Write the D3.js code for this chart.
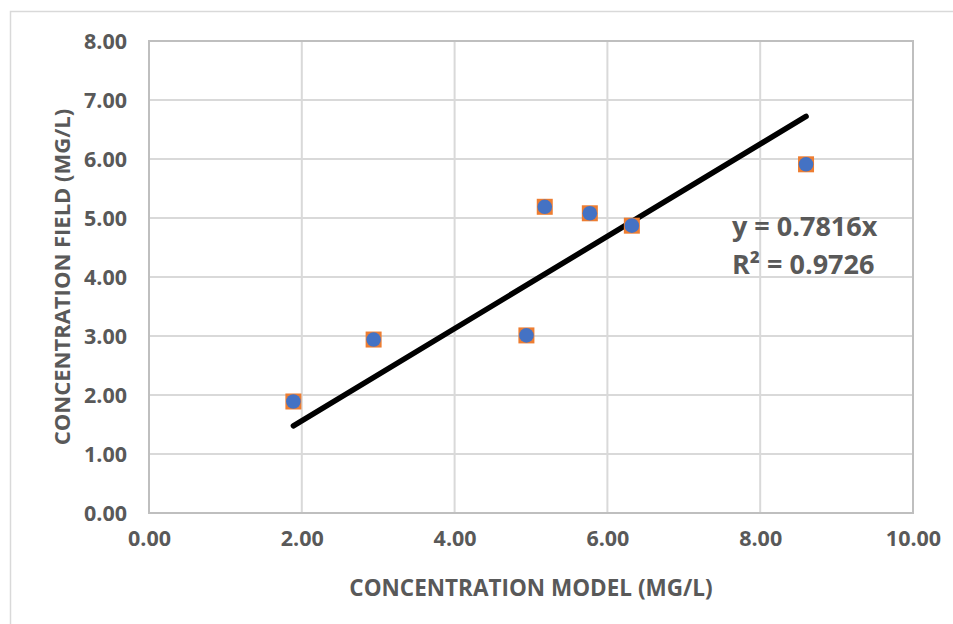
<!DOCTYPE html>
<html>
<head>
<meta charset="utf-8">
<script src="https://cdn.jsdelivr.net/npm/d3@7"></script>
<style>
    body { margin: 0; background: #fff; }
    text { font-family: "Open Sans", sans-serif; font-weight: bold; fill: #595959; }
</style>
</head>
<body>
<div id="chart"></div>
<script>
// values
var modelConc = [1.89, 2.94, 4.94, 5.18, 5.77, 6.32, 8.60];
var fieldConc = [1.89, 2.94, 3.01, 5.19, 5.08, 4.87, 5.91];
var xTicks = [0, 2, 4, 6, 8, 10];
var yTicks = [0, 1, 2, 3, 4, 5, 6, 7, 8];
var slope = 0.7816;
var rSquared = 0.9726;

var margin = {
        top: 41,
        right: 40,
        bottom: 111,
        left: 149
    },
    width = 953 - margin.left - margin.right,
    height = 624 - margin.top - margin.bottom;

var svg = d3.select('#chart')
    .append('svg')
    .attr('width', 953)
    .attr('height', 624);

// outer chart border (runs off the right and bottom edges)
svg.append('rect')
    .attr('x', 10.5)
    .attr('y', 11.5)
    .attr('width', 960)
    .attr('height', 640)
    .attr('fill', 'none')
    .attr('stroke', '#d9d9d9')
    .attr('stroke-width', 1.5);

var g = svg.append('g')
    .attr('transform', 'translate(' + margin.left + ',' + margin.top + ')');

var x = d3.scaleLinear().domain([0, 10]).range([0, width]);
var y = d3.scaleLinear().domain([0, 8]).range([height, 0]);

// grid
g.append('g')
    .selectAll('line')
    .data(xTicks)
    .enter()
    .append('line')
    .attr('x1', function(d) { return x(d); })
    .attr('x2', function(d) { return x(d); })
    .attr('y1', 0)
    .attr('y2', height)
    .attr('stroke', '#d9d9d9')
    .attr('stroke-width', 2);

g.append('g')
    .selectAll('line')
    .data(yTicks)
    .enter()
    .append('line')
    .attr('x1', 0)
    .attr('x2', width)
    .attr('y1', function(d) { return y(d); })
    .attr('y2', function(d) { return y(d); })
    .attr('stroke', '#d9d9d9')
    .attr('stroke-width', 2);

// plot area border
g.append('rect')
    .attr('width', width)
    .attr('height', height)
    .attr('fill', 'none')
    .attr('stroke', '#bfbfbf')
    .attr('stroke-width', 2);

// axes (labels only)
var xAxis = g.append('g')
    .attr('transform', 'translate(0,' + height + ')')
    .call(d3.axisBottom(x).tickValues(xTicks).tickFormat(d3.format('.2f')).tickSize(0).tickPadding(25));

var yAxis = g.append('g')
    .call(d3.axisLeft(y).tickValues(yTicks).tickFormat(d3.format('.2f')).tickSize(0).tickPadding(22));

[xAxis, yAxis].forEach(function(a) {
    a.select('.domain').remove();
    a.selectAll('text')
        .attr('font-family', null)
        .style('font-size', '21.5px')
        .attr('fill', '#595959')
        .attr('dy', '0.35em');
});

// axis titles
svg.append('text')
    .attr('x', margin.left + width / 2)
    .attr('y', 596)
    .attr('text-anchor', 'middle')
    .style('font-size', '22.5px')
    .text('CONCENTRATION MODEL (MG/L)');

svg.append('text')
    .attr('transform', 'translate(70,' + (margin.top + height / 2) + ') rotate(-90)')
    .attr('text-anchor', 'middle')
    .style('font-size', '22px')
    .text('CONCENTRATION FIELD (MG/L)');

var points = modelConc.map(function(d, i) {
    return { x: d, y: fieldConc[i] };
});

// trendline through origin, drawn over the data range
var xMin = d3.min(modelConc), xMax = d3.max(modelConc);
g.append('line')
    .attr('x1', x(xMin))
    .attr('y1', y(slope * xMin))
    .attr('x2', x(xMax))
    .attr('y2', y(slope * xMax))
    .attr('stroke', '#000')
    .attr('stroke-width', 5.5)
    .attr('stroke-linecap', 'round');

// markers: orange squares under blue circles
g.selectAll('rect.sq')
    .data(points)
    .enter()
    .append('rect')
    .attr('class', 'sq')
    .attr('x', function(d) { return x(d.x) - 8; })
    .attr('y', function(d) { return y(d.y) - 8; })
    .attr('width', 16)
    .attr('height', 16)
    .attr('fill', '#ed7d31');

g.selectAll('circle')
    .data(points)
    .enter()
    .append('circle')
    .attr('cx', function(d) { return x(d.x); })
    .attr('cy', function(d) { return y(d.y); })
    .attr('r', 7.3)
    .attr('fill', '#4472c4');

// regression label
var eq = svg.append('text')
    .style('font-size', '27px');
eq.append('tspan')
    .attr('x', 732)
    .attr('y', 236)
    .text('y = ' + slope + 'x');
eq.append('tspan')
    .attr('x', 732)
    .attr('y', 274)
    .text('R² = ' + rSquared);
</script>
</body>
</html>
